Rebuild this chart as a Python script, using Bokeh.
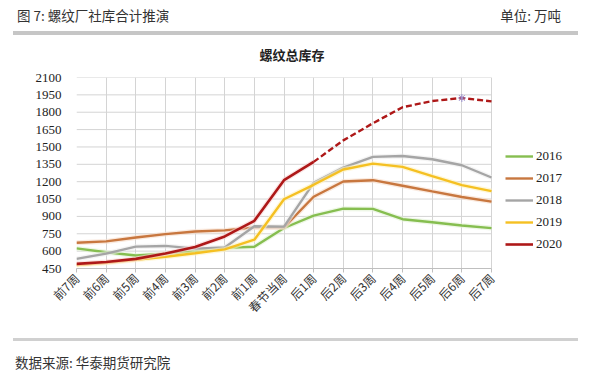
from bokeh.plotting import figure
from bokeh.models import Legend, LegendItem, FixedTicker, Range1d, Div
from bokeh.layouts import column
from bokeh.embed import file_html
from bokeh.resources import INLINE
import math

cats = ["前7周", "前6周", "前5周", "前4周", "前3周", "前2周", "前1周", "春节当周",
        "后1周", "后2周", "后3周", "后4周", "后5周", "后6周", "后7周"]
y2016 = [624, 590, 562, 578, 600, 628, 638, 800, 907, 967, 965, 876, 850, 822, 799]
y2017 = [673, 684, 718, 747, 770, 779, 805, 805, 1070, 1202, 1213, 1165, 1116, 1068, 1028]
y2018 = [533, 579, 639, 645, 622, 632, 815, 812, 1190, 1322, 1414, 1422, 1394, 1342, 1236]
y2019 = [480, 500, 525, 552, 582, 615, 699, 1048, 1173, 1305, 1356, 1328, 1248, 1170, 1119]
y2020 = [490, 506, 533, 579, 636, 727, 862, 1213, 1371, 1557, 1705, 1843, 1897, 1923, 1894]
actual_end_2020 = 8  # index of 后1周: solid up to here, dashed after
peak_idx_2020 = 13
series_names = ["2016", "2017", "2018", "2019", "2020"]
y_ticks = [450, 600, 750, 900, 1050, 1200, 1350, 1500, 1650, 1800, 1950, 2100]

header_text = "图 7: 螺纹厂社库合计推演"
unit_text = "单位: 万吨"
chart_title = "螺纹总库存"
source_text = "数据来源: 华泰期货研究院"

colors = {"2016": "#86be50", "2017": "#c8773f", "2018": "#a5a5a5",
          "2019": "#f5c022", "2020": "#ae1818"}
glows = {"2016": "#e3f2d5", "2017": "#f6dcc9", "2018": "#ececec",
         "2019": "#fdf2bf", "2020": "#f9d2d2"}

xs = list(range(len(cats)))
W = 584
PLOT_L, PLOT_R, FRAME_R = 76, 491, 574   # pixel layout of the category area / frame
x_end = (len(cats) - 1) * (FRAME_R - PLOT_L) / (PLOT_R - PLOT_L)

FONT = "'Noto Sans CJK SC', sans-serif"
header = Div(width=W, height=65, styles={"margin": "0", "padding": "0"}, text=(
    f'<div style="position:relative;width:{W}px;height:65px;font-family:{FONT};color:#333;">'
    f'<span style="position:absolute;left:17px;top:6px;font-size:13.5px;line-height:18px;white-space:nowrap;">{header_text}</span>'
    f'<span style="position:absolute;right:23px;top:6px;font-size:13.5px;line-height:18px;white-space:nowrap;">{unit_text}</span>'
    '<div style="position:absolute;left:13px;top:31px;width:565px;height:4px;background:#c6c6c6;"></div>'
    f'<span style="position:absolute;left:192px;width:200px;top:46px;text-align:center;font-size:13px;font-weight:bold;line-height:18px;color:#222;">{chart_title}</span>'
    '</div>'))

footer = Div(width=W, height=45, styles={"margin": "0", "padding": "0"}, text=(
    f'<div style="position:relative;width:{W}px;height:45px;font-family:{FONT};color:#333;">'
    '<div style="position:absolute;left:13px;top:1px;width:565px;height:3px;background:#d0d0d0;"></div>'
    f'<span style="position:absolute;left:15px;top:16px;font-size:13.5px;line-height:18px;white-space:nowrap;">{source_text}</span>'
    '</div>'))

p = figure(width=W, height=272, output_backend="svg", toolbar_location=None,
           x_range=Range1d(0, x_end), y_range=Range1d(450, 2100),
           min_border_left=PLOT_L, min_border_right=W - FRAME_R, min_border_top=12,
           min_border_bottom=69, outline_line_color=None)
p.background_fill_color = "white"
p.border_fill_color = "white"

# axes
p.xaxis.ticker = FixedTicker(ticks=xs)
p.xaxis.bounds = (0, len(cats) - 1)
p.xaxis.major_label_overrides = {i: c for i, c in enumerate(cats)}
p.xaxis.major_label_orientation = math.pi / 4
p.xaxis.major_label_text_font = "Noto Sans CJK SC"
p.xaxis.major_label_text_font_size = "12px"
p.xaxis.major_label_text_color = "#333333"
p.xaxis.major_tick_out = 4
p.xaxis.major_tick_in = 0
p.xaxis.minor_tick_line_color = None
p.xaxis.axis_line_color = "#bfbfbf"
p.xaxis.major_tick_line_color = "#bfbfbf"
p.xaxis.major_label_standoff = 3

p.yaxis.ticker = FixedTicker(ticks=y_ticks)
p.yaxis.major_label_text_font = "Liberation Serif"
p.yaxis.major_label_text_font_size = "13px"
p.yaxis.major_label_text_color = "#222222"
p.yaxis.major_tick_line_color = None
p.yaxis.minor_tick_line_color = None
p.yaxis.axis_line_color = None
p.yaxis.major_label_standoff = 9

p.xgrid.grid_line_color = "#d4d4d4"
p.xgrid.ticker = FixedTicker(ticks=xs)
p.ygrid.visible = False
# horizontal grid lines limited to the category span
p.segment(x0=[0] * len(y_ticks), x1=[len(cats) - 1] * len(y_ticks),
          y0=y_ticks, y1=y_ticks, line_color="#d4d4d4", line_width=1, level="underlay")

data = {"2016": y2016, "2017": y2017, "2018": y2018, "2019": y2019, "2020": y2020}
renderers = {}
for name in series_names:
    ys = data[name]
    if name == "2020":
        xa, ya = xs[:actual_end_2020 + 1], ys[:actual_end_2020 + 1]
        xb, yb = xs[actual_end_2020:], ys[actual_end_2020:]
        p.line(xa, ya, line_color=glows[name], line_width=5, line_alpha=0.6)
        r = p.line(xa, ya, line_color=colors[name], line_width=2.6)
        p.line(xb, yb, line_color=colors[name], line_width=2.4, line_dash="6 3")
        p.scatter([xs[peak_idx_2020]], [ys[peak_idx_2020]], marker="asterisk",
                  size=8, line_color="#9a8fd0", line_width=1)
    else:
        p.line(xs, ys, line_color=glows[name], line_width=5, line_alpha=0.6)
        r = p.line(xs, ys, line_color=colors[name], line_width=2.4)
    renderers[name] = r

legend = Legend(items=[LegendItem(label=n, renderers=[renderers[n]]) for n in series_names],
                location=(505 - PLOT_L, 13), orientation="vertical")
legend.label_text_font = "Liberation Serif"
legend.label_text_font_size = "13px"
legend.label_text_color = "#222222"
legend.glyph_width = 28
legend.glyph_height = 22
legend.label_height = 22
legend.label_standoff = 3
legend.spacing = 0
legend.padding = 0
legend.margin = 0
legend.border_line_color = None
legend.background_fill_alpha = 0
p.add_layout(legend)

layout = column(header, p, footer, spacing=0)
open("out.html", "w").write(file_html(layout, INLINE))
